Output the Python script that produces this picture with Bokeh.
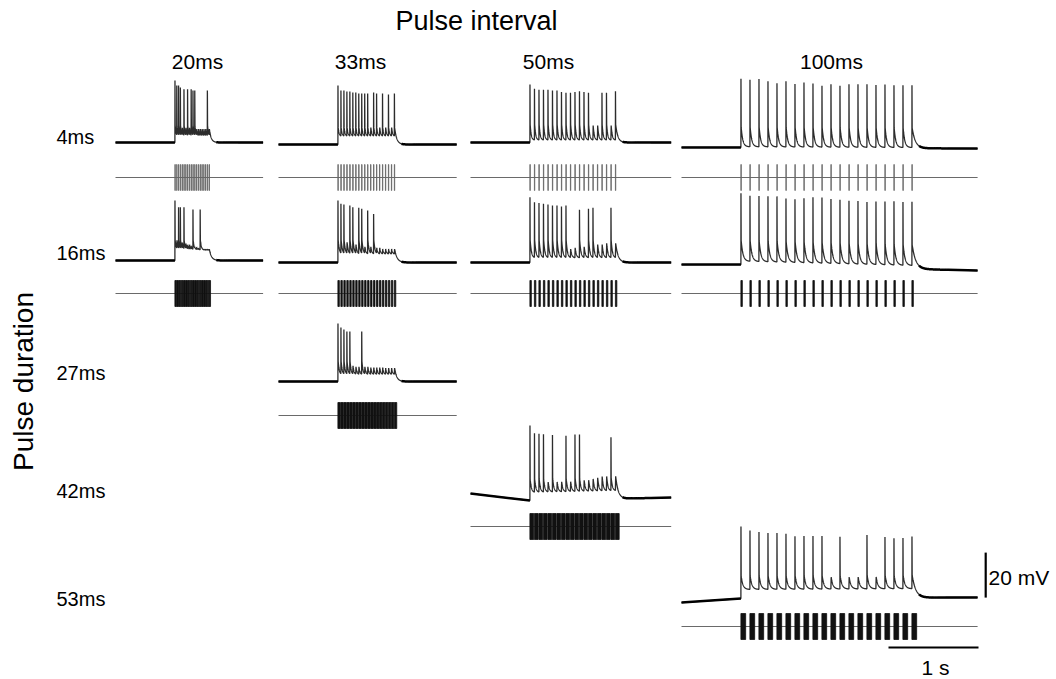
import numpy as np
from bokeh.plotting import figure
from bokeh.models import Range1d
from bokeh.embed import file_html
from bokeh.resources import INLINE
from bokeh.core.properties import value

# ---------------- stimulation protocol ----------------
interval_labels = ["20ms", "33ms", "50ms", "100ms"]
intervals_ms = [20, 33, 50, 100]
duration_labels = ["4ms", "16ms", "27ms", "42ms", "53ms"]
durations_ms = [4, 16, 27, 42, 53]
onset_s = 0.66                       # train onset within each sweep
sweep_s = [1.64, 1.98, 2.23, 3.29]   # sweep length for each interval column

# ---------------- recorded responses ----------------
# which (duration, interval) combination each recording belongs to
panel_duration_idx = [0, 0, 0, 0, 1, 1, 1, 1, 2, 3, 4]
panel_interval_idx = [0, 1, 2, 3, 0, 1, 2, 3, 1, 2, 3]

# peak depolarisation evoked by each of the 20 pulses (mV above rest);
# values above the spike threshold are action potentials, the rest are EPSPs
p_4_20 = [27.5, 25.3, 25.3, 24.4, 6.5, 23.6, 6.5, 23.6, 6.5, 23.6, 23.1, 23.1, 6.0, 6.0, 6.0, 6.0, 6.0, 6.0, 23.1, 6.0]
p_4_33 = [26.2, 24.0, 24.0, 23.6, 23.6, 23.1, 23.1, 22.7, 22.7, 22.7, 22.7, 7.5, 23.1, 22.7, 7.5, 22.7, 7.5, 22.2, 7.5, 22.7]
p_4_50 = [25.8, 23.9, 23.4, 23.4, 23.4, 23.1, 23.1, 22.4, 22.1, 22.1, 22.4, 22.8, 22.4, 22.1, 7.5, 7.5, 22.1, 22.1, 7.5, 22.8]
p_4_100 = [30.5, 30.1, 30.5, 29.5, 28.6, 29.5, 28.3, 29.0, 28.6, 27.6, 28.3, 27.6, 28.3, 28.3, 28.3, 28.0, 28.3, 28.0, 28.0, 28.0]
p_16_20 = [26.7, 9.0, 23.6, 23.6, 8.0, 23.6, 7.5, 7.0, 7.0, 6.5, 22.7, 6.0, 6.0, 5.5, 22.7, 5.5, 5.0, 5.0, 5.0, 5.0]
p_16_33 = [27.6, 26.1, 25.8, 9.0, 25.3, 24.6, 8.0, 24.3, 23.9, 7.0, 23.1, 7.0, 21.6, 6.5, 6.5, 6.0, 6.0, 6.0, 6.0, 6.0]
p_16_50 = [29.0, 26.8, 26.4, 26.1, 25.8, 25.3, 25.3, 24.9, 25.3, 6.0, 6.5, 23.4, 7.0, 23.9, 24.3, 8.0, 8.0, 8.5, 24.3, 8.5]
p_16_100 = [31.7, 30.7, 30.7, 30.7, 30.7, 29.9, 29.6, 30.2, 30.7, 30.7, 30.2, 29.9, 29.6, 29.6, 29.2, 29.6, 29.6, 29.9, 29.6, 29.9]
p_27_33 = [25.8, 24.0, 23.1, 22.2, 22.2, 7.0, 6.5, 6.5, 22.2, 6.5, 6.5, 6.2, 6.2, 6.2, 6.2, 6.2, 6.0, 6.0, 6.0, 6.0]
p_42_50 = [33.3, 29.9, 29.6, 29.3, 8.0, 28.9, 8.0, 8.0, 28.4, 8.0, 28.9, 28.9, 8.5, 8.5, 9.0, 9.5, 10.0, 10.0, 27.4, 10.0]
p_53_100 = [32.0, 30.2, 29.5, 29.0, 29.0, 28.7, 27.6, 27.6, 27.6, 27.6, 9.3, 27.2, 9.3, 9.3, 28.0, 9.3, 27.0, 26.5, 26.5, 27.2]
panel_peaks = [p_4_20, p_4_33, p_4_50, p_4_100, p_16_20, p_16_33, p_16_50, p_16_100, p_27_33, p_42_50, p_53_100]

adp_mv = [7.5, 7.5, 8.0, 9.0, 9.0, 10.0, 10.0, 10.7, 9.0, 9.5, 10.0]     # after-spike level
floor_mv = [2.5, 3.5, 1.0, 0.3, 4.5, 3.5, 2.0, 1.5, 3.0, 3.5, 4.0]       # plateau during train
tau_ms = [10, 12, 12, 18, 12, 14, 14, 20, 12, 14, 20]                    # decay constant
rest_offset_mv = [0.9, 0.0, 0.9, -1.3, 0.9, 0.0, 0.0, -0.9, 0.0, 0.0, 0.0]
drift_pre_mv = [0, 0, 0, 0, 0, 0, 0, 0, 0, 3.1, -1.8]                    # at sweep start
drift_post_mv = [0, 0, 0, -0.5, 0, 0, 0, -2.7, 0, 1.3, 0.5]              # at sweep end
spike_threshold_mv = 15.0

scale_mv = 20
scale_s = 1

# ---------------- page geometry ----------------
W, H = 1056, 679
col_left_px = [115, 278, 470, 681]
row_rest_px = [144, 262, 381, 500, 598]
row_stim_px = [177, 293, 415, 526, 626]
px_per_s = 90.0
px_per_mv = 2.25
px_per_stim = 13.0

FONT = value("Liberation Sans")

p = figure(width=W, height=H, x_range=Range1d(0, W), y_range=Range1d(H, 0),
           x_axis_type=None, y_axis_type=None, toolbar_location=None,
           output_backend="svg", min_border=0, outline_line_color=None,
           background_fill_color="white", border_fill_color="white")

xr = {}
for c, left in enumerate(col_left_px):
    xr[f"t{c}"] = Range1d(-left / px_per_s, (W - left) / px_per_s)
yr = {}
for r, (rest, stim) in enumerate(zip(row_rest_px, row_stim_px)):
    yr[f"v{r}"] = Range1d((rest - H) / px_per_mv, rest / px_per_mv)
    yr[f"s{r}"] = Range1d((stim - H) / px_per_stim, stim / px_per_stim)
p.extra_x_ranges = xr
p.extra_y_ranges = yr


def baseline(t, sweep, pre, post):
    return np.where(t <= onset_s, pre * (1 - t / onset_s),
                    post * (t - onset_s) / (sweep - onset_s))


def build_trace(peaks, adp, flo, tau, interval, sweep):
    ts, vs = [0.0, onset_s], [0.0, 0.0]
    level = 0.0
    dt = 0.001
    n = len(peaks)
    for k, pk in enumerate(peaks):
        t0 = onset_s + k * interval
        last = k == n - 1
        ts.append(t0)
        vs.append(level)
        if pk >= spike_threshold_mv:
            ts += [t0 + 0.0008, t0 + 0.003]
            vs += [pk, adp]
            start = adp
        else:
            ts.append(t0 + 0.003)
            vs.append(pk)
            start = pk
        s0 = 0.003
        if last:
            target, tau_s = 0.0, 2 * tau / 1000.0
            seg_end = sweep - t0
            s = np.concatenate([np.arange(s0 + dt, min(0.4, seg_end), dt), [seg_end]])
        else:
            target, tau_s = flo, tau / 1000.0
            seg_end = interval
            s = np.arange(s0 + dt, seg_end, dt)
        v = target + (start - target) * np.exp(-(s - s0) / tau_s)
        ts += list(t0 + s)
        vs += list(v)
        level = target + (start - target) * np.exp(-(seg_end - s0) / tau_s)
    return np.array(ts), np.array(vs)


for i, peaks in enumerate(panel_peaks):
    r = panel_duration_idx[i]
    c = panel_interval_idx[i]
    interval = intervals_ms[c] / 1000.0
    dur = durations_ms[r] / 1000.0
    sweep = sweep_s[c]
    t, v = build_trace(peaks, adp_mv[i], floor_mv[i], tau_ms[i], interval, sweep)
    v = v + baseline(t, sweep, drift_pre_mv[i], drift_post_mv[i]) + rest_offset_mv[i]

    # membrane potential
    p.line(t, v, x_range_name=f"t{c}", y_range_name=f"v{r}",
           line_color="#2c2c2c", line_width=1.3)
    quiet_pre = t <= onset_s
    p.line(t[quiet_pre], v[quiet_pre], x_range_name=f"t{c}", y_range_name=f"v{r}",
           line_color="black", line_width=2.5)
    t_end = onset_s + (len(peaks) - 1) * interval + 0.08
    quiet_post = t >= t_end
    p.line(t[quiet_post], v[quiet_post], x_range_name=f"t{c}", y_range_name=f"v{r}",
           line_color="black", line_width=2.5)

    # light stimulation channel
    p.line([0, sweep], [0, 0], x_range_name=f"t{c}", y_range_name=f"s{r}",
           line_color="#6a6a6a", line_width=1)
    starts = onset_s + np.arange(len(peaks)) * interval
    pulse_col = "#666666" if r == 0 else "#111111"
    p.quad(left=starts, right=starts + dur, bottom=-1, top=1,
           x_range_name=f"t{c}", y_range_name=f"s{r}",
           fill_color=pulse_col, line_color=pulse_col, line_width=0.8)

# scale bars
bar_t = 3.38
p.line([bar_t, bar_t], [0.4, 0.4 + scale_mv], x_range_name="t3", y_range_name="v4",
       line_color="black", line_width=2.2)
p.line([3.3 - scale_s, 3.3], [647, 647], x_range_name="t3",
       line_color="black", line_width=2.2)

# labels
p.text(x=[476], y=[20], text=["Pulse interval"], text_font=FONT, text_font_size="27px",
       text_align="center", text_baseline="middle", text_color="black")
p.text(x=[23], y=[381], text=["Pulse duration"], text_font=FONT, text_font_size="28px",
       text_align="center", text_baseline="middle", text_color="black", angle=np.pi / 2)
p.text(x=[197, 360, 548, 831], y=[61] * 4, text=interval_labels, text_font=FONT,
       text_font_size="21px", text_align="center", text_baseline="middle", text_color="black")
p.text(x=[56] * 5, y=[136, 252, 372, 490, 598], text=duration_labels, text_font=FONT,
       text_font_size="20px", text_align="left", text_baseline="middle", text_color="black")
p.text(x=[988], y=[577], text=[f"{scale_mv} mV"], text_font=FONT, text_font_size="21px",
       text_align="left", text_baseline="middle", text_color="black")
p.text(x=[935], y=[667], text=[f"{scale_s} s"], text_font=FONT, text_font_size="21px",
       text_align="center", text_baseline="middle", text_color="black")

open("out.html", "w").write(file_html(p, INLINE))
